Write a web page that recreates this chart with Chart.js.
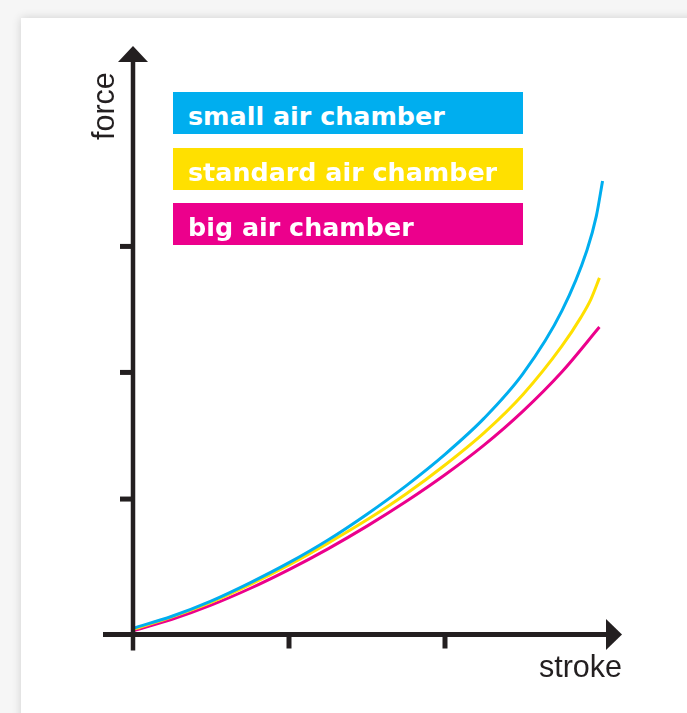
<!DOCTYPE html>
<html>
<head>
<meta charset="utf-8">
<script src="https://cdn.jsdelivr.net/npm/chart.js@4"></script>
<style>
  html, body { margin: 0; padding: 0; }
  body { width: 687px; height: 713px; background: #f6f6f6; position: relative; overflow: hidden; }
  #card { position: absolute; left: 21px; top: 18px; width: 720px; height: 760px; background: #fff;
          box-shadow: 0 0 9px rgba(0,0,0,0.16); }
  #chart { position: absolute; left: 0; top: 0; }
  .key { position: absolute; left: 173px; width: 350px; height: 42px; overflow: hidden;
         font: bold 25.4px "DejaVu Sans"; line-height: 48px; color: #fff; padding-left: 15px; box-sizing: border-box;
         white-space: nowrap; }
  .axisTitle { position: absolute; font: 30.5px "Liberation Sans"; line-height: 30px; color: #231f20; white-space: nowrap; }
</style>
</head>
<body>
<div id="card"></div>
<canvas id="chart" width="687" height="713"></canvas>
<div id="legend"></div>
<div class="axisTitle" id="yTitle" style="left:88px; top:140px; transform-origin:0 0; transform:rotate(-90deg);">force</div>
<div class="axisTitle" id="xTitle" style="left:460px; top:651px; width:162px; text-align:right;">stroke</div>
<script>
// series labels + colours
const seriesNames = ["small air chamber", "standard air chamber", "big air chamber"];
const seriesColors = ["#00aeef", "#ffe000", "#ec008c"];

// stroke (x) and force (y)
const strokeSmall = [0, 0.25, 0.5, 0.75, 1, 1.25, 1.5, 1.75, 2, 2.25, 2.5, 2.75, 2.91, 2.97, 3.01];
const forceSmall = [0.05, 0.145, 0.265, 0.41, 0.57, 0.75, 0.955, 1.18, 1.43, 1.715, 2.07, 2.57, 3.05, 3.32, 3.60];

const strokeStandard = [0, 0.25, 0.5, 0.75, 1, 1.25, 1.5, 1.75, 2, 2.25, 2.5, 2.75, 2.87, 2.935, 2.99];
const forceStandard = [0.04, 0.14, 0.255, 0.395, 0.552, 0.725, 0.91, 1.115, 1.345, 1.6, 1.905, 2.29, 2.515, 2.66, 2.83];

const strokeBig = [0, 0.25, 0.5, 0.75, 1, 1.25, 1.5, 1.75, 2, 2.25, 2.5, 2.75, 2.99];
const forceBig = [0.03, 0.12, 0.2325, 0.365, 0.515, 0.68, 0.86, 1.055, 1.2675, 1.5025, 1.7725, 2.085, 2.44];

// tick marks (no labels in the original)
const xTicks = [1, 2];
const yTicks = [1.075, 2.08, 3.08];

function toPoints(xs, ys) {
    return xs.map((x, i) => ({ x: x, y: ys[i] }));
}

const seriesData = [
    toPoints(strokeSmall, forceSmall),
    toPoints(strokeStandard, forceStandard),
    toPoints(strokeBig, forceBig)
];

const AXIS = "#231f20";

// draws the arrowed axes and tick marks
const arrowAxes = {
    id: "arrowAxes",
    afterDatasetsDraw(chart) {
        const ctx = chart.ctx;
        const sx = chart.scales.x;
        const sy = chart.scales.y;
        const x0 = sx.getPixelForValue(0);
        const y0 = sy.getPixelForValue(0);

        ctx.save();
        ctx.strokeStyle = AXIS;
        ctx.fillStyle = AXIS;
        ctx.lineCap = "butt";

        // y axis
        ctx.lineWidth = 4.5;
        ctx.beginPath();
        ctx.moveTo(x0, y0 + 16);
        ctx.lineTo(x0, 60);
        ctx.stroke();
        ctx.beginPath();
        ctx.moveTo(x0, 46);
        ctx.lineTo(x0 - 15, 62);
        ctx.lineTo(x0 + 15, 62);
        ctx.closePath();
        ctx.fill();

        // x axis
        ctx.lineWidth = 5;
        ctx.beginPath();
        ctx.moveTo(x0 - 30, y0);
        ctx.lineTo(608, y0);
        ctx.stroke();
        ctx.beginPath();
        ctx.moveTo(622, y0);
        ctx.lineTo(606, y0 - 15.5);
        ctx.lineTo(606, y0 + 15.5);
        ctx.closePath();
        ctx.fill();

        // ticks
        ctx.lineWidth = 5;
        xTicks.forEach(v => {
            const px = sx.getPixelForValue(v);
            ctx.beginPath();
            ctx.moveTo(px, y0);
            ctx.lineTo(px, y0 + 14);
            ctx.stroke();
        });
        yTicks.forEach(v => {
            const py = sy.getPixelForValue(v);
            ctx.beginPath();
            ctx.moveTo(x0, py);
            ctx.lineTo(x0 - 13, py);
            ctx.stroke();
        });
        ctx.restore();
    }
};

const chart = new Chart(document.getElementById("chart"), {
    type: "line",
    data: {
        datasets: seriesNames.map((name, i) => ({
            label: name,
            data: seriesData[i],
            borderColor: seriesColors[i],
            backgroundColor: seriesColors[i],
            borderWidth: 3,
            pointRadius: 0,
            cubicInterpolationMode: "monotone",
            fill: false,
            clip: false
        }))
    },
    options: {
        responsive: false,
        animation: false,
        devicePixelRatio: 1,
        layout: { padding: { left: 133, right: 70.4, top: 67.5, bottom: 78.5 } },
        scales: {
            x: { type: "linear", min: 0, max: 3.1, display: false },
            y: { type: "linear", min: 0, max: 4.5, display: false }
        },
        plugins: {
            legend: { display: false },
            tooltip: { enabled: false }
        }
    },
    plugins: [arrowAxes]
});

// HTML legend: coloured bars with white text
const legendEl = document.getElementById("legend");
chart.data.datasets.forEach((ds, i) => {
    const div = document.createElement("div");
    div.className = "key";
    div.style.top = (92 + i * 55.5) + "px";
    div.style.background = ds.borderColor;
    div.textContent = ds.label;
    legendEl.appendChild(div);
});
</script>
</body>
</html>
